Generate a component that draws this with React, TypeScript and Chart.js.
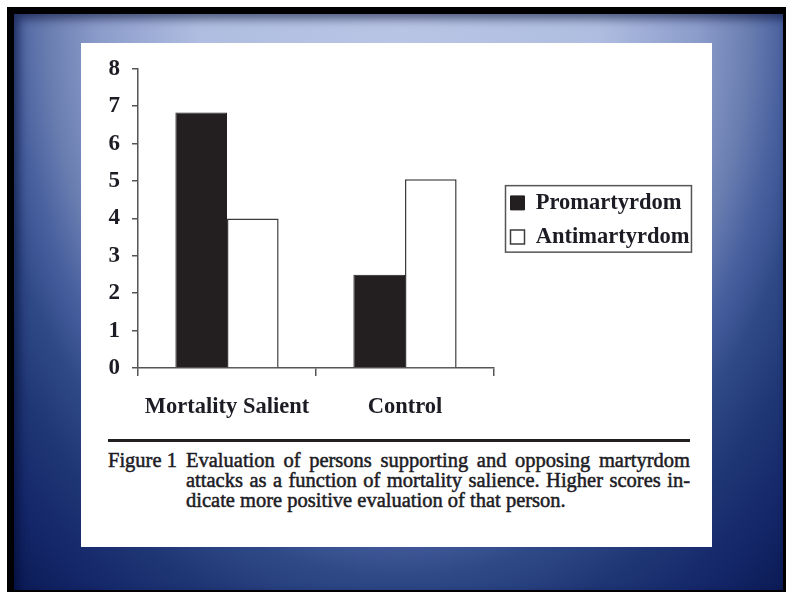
import React, { useEffect, useRef } from "react";
import { Chart, registerables } from "chart.js";

Chart.register(...registerables);

// ---- data ----
const categories = ["Mortality Salient", "Control"];
const seriesNames = ["Promartyrdom", "Antimartyrdom"];
const promartyrdom = [6.83, 2.49];
const antimartyrdom = [4.0, 5.05];
const yTicks = [0, 1, 2, 3, 4, 5, 6, 7, 8];
const captionLabel = "Figure 1";
const captionLines = [
  "Evaluation of persons supporting and opposing martyrdom",
  "attacks as a function of mortality salience. Higher scores in-",
  "dicate more positive evaluation of that person.",
];

const FONT = "'Liberation Serif', 'Times New Roman', serif";
const INK = "#1d1c24";
const AXIS = "#555555";
const BLACK = "#231f20";

const legendBoxPlugin = {
  id: "legendBox",
  afterLayout(chart: any) {
    const lg = chart.legend;
    if (!lg) return;
    const ca = chart.chartArea;
    lg.left = ca.right + 5;
    lg.width = 220;
    lg.right = lg.left + lg.width;
    lg.top = ca.top + 1.5;
    lg.bottom = ca.bottom + 1.5;
    lg.height = lg.bottom - lg.top;
  },
  afterDraw(chart: any) {
    const lg = chart.legend;
    const boxes = lg && lg.legendHitBoxes;
    if (!boxes || !boxes.length) return;
    let l = Infinity, t = Infinity, r = -Infinity, b = -Infinity;
    for (const h of boxes) {
      l = Math.min(l, h.left);
      t = Math.min(t, h.top);
      r = Math.max(r, h.left + h.width);
      b = Math.max(b, h.top + h.height);
    }
    const ctx = chart.ctx;
    ctx.save();
    ctx.strokeStyle = AXIS;
    ctx.lineWidth = 1.5;
    ctx.strokeRect(l - 5, t - 6, r - l + 7, b - t + 10);
    ctx.restore();
  },
};

const GRADIENT =
  "radial-gradient(ellipse 65% 115% at 50% 0%, #b9c5e5 0%, #afbde0 40%, #8b9ccb 60%, #6a7eb0 70%, #4a61a0 77%, #2f4987 85%, #1f3674 95%, #15286a 105%, #0c1c58 115%)";

export default function App() {
  const ref = useRef<HTMLCanvasElement>(null);

  useEffect(() => {
    if (!ref.current) return;
    const chart = new Chart(ref.current, {
      type: "bar",
      data: {
        labels: categories,
        datasets: [
          {
            label: seriesNames[0],
            data: promartyrdom,
            backgroundColor: BLACK,
            borderColor: BLACK,
            borderWidth: 1,
          },
          {
            label: seriesNames[1],
            data: antimartyrdom,
            backgroundColor: "#ffffff",
            borderColor: "#3c3c3c",
            borderWidth: 1.5,
          },
        ],
      },
      options: {
        responsive: false,
        animation: false,
        events: [],
        layout: { padding: { left: 0, right: 81, top: 22, bottom: 0 } },
        datasets: { bar: { categoryPercentage: 0.58, barPercentage: 1 } },
        plugins: {
          tooltip: { enabled: false },
          title: { display: false },
          legend: {
            display: true,
            position: "right",
            maxWidth: 137,
            labels: {
              font: { family: FONT, size: 22.5, weight: "bold" },
              color: INK,
              boxWidth: 14,
              boxHeight: 14,
              padding: 11.5,
            },
          },
        },
        scales: {
          x: {
            offset: true,
            grid: {
              offset: true,
              drawOnChartArea: false,
              drawTicks: true,
              tickLength: 8,
              color: AXIS,
              lineWidth: 1.5,
            },
            border: { color: AXIS, width: 1.5 },
            ticks: {
              font: { family: FONT, size: 22.5, weight: "bold" },
              color: INK,
              padding: 18,
              maxRotation: 0,
            },
            afterFit: (s: any) => {
              s.height = 70;
            },
          },
          y: {
            min: 0,
            max: 8,
            grid: {
              drawOnChartArea: false,
              drawTicks: true,
              tickLength: 6,
              color: AXIS,
              lineWidth: 1.5,
            },
            border: { color: AXIS, width: 1.5 },
            ticks: {
              font: { family: FONT, size: 23, weight: "bold" },
              color: INK,
              padding: 12,
              stepSize: 1,
            },
            afterBuildTicks: (s: any) => {
              s.ticks = yTicks.map((v) => ({ value: v }));
            },
            afterFit: (s: any) => {
              s.width = 57;
            },
          },
        },
      },
      plugins: [legendBoxPlugin],
    });
    return () => chart.destroy();
  }, []);

  const capFont: React.CSSProperties = {
    fontFamily: FONT,
    fontWeight: "normal",
    fontSize: 20.5,
    lineHeight: "20px",
    color: INK,
    whiteSpace: "nowrap",
    WebkitTextStroke: "0.5px " + INK,
  };

  return (
    <div
      style={{
        position: "absolute",
        left: 0,
        top: 0,
        width: 786,
        height: 592,
        background: "#ffffff",
        overflow: "hidden",
      }}
    >
      <div style={{ position: "absolute", left: 7, top: 7, width: 779, height: 585, background: "#000" }} />
      <div
        style={{
          position: "absolute",
          left: 14,
          top: 14,
          width: 769,
          height: 576,
          background: GRADIENT,
          boxShadow: "inset 5px 5px 10px rgba(0,10,50,0.55)",
        }}
      />
      <div style={{ position: "absolute", left: 81, top: 43, width: 631, height: 504, background: "#fff" }}>
        <div style={{ position: "absolute", left: 0, top: 0, width: 631, height: 395 }}>
          <canvas ref={ref} width={631} height={395} style={{ display: "block" }} />
        </div>
        <div style={{ position: "absolute", left: 27, top: 396, width: 582, height: 3, background: BLACK }} />
        <div style={{ ...capFont, position: "absolute", left: 27, top: 407 }}>{captionLabel}</div>
        {captionLines.map((line, i) => (
          <div
            key={i}
            style={{
              ...capFont,
              position: "absolute",
              left: 105,
              top: 407 + i * 20,
              width: 504,
              textAlign: i < captionLines.length - 1 ? "justify" : "left",
              textAlignLast: i < captionLines.length - 1 ? "justify" : "left",
              whiteSpace: "normal",
            }}
          >
            {line}
          </div>
        ))}
      </div>
    </div>
  );
}
